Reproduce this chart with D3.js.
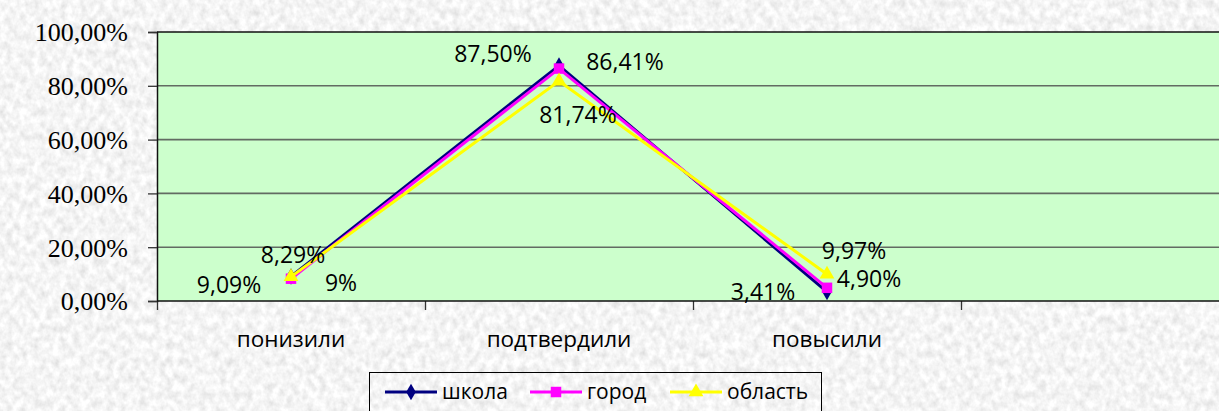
<!DOCTYPE html>
<html>
<head>
<meta charset="utf-8">
<script src="https://cdn.jsdelivr.net/npm/d3@7"></script>
<style>
  html, body { margin: 0; padding: 0; background: #fff; }
  svg { display: block; }
</style>
</head>
<body>
<script>
// chart data
var categories = ["понизили", "подтвердили", "повысили", ""];
var seriesNames = ["школа", "город", "область"];
var school = [9.09, 87.50, 3.41];
var city = [8.29, 86.41, 4.90];
var region = [9, 81.74, 9.97];
var valueLabels = [
  ["9,09%", "87,50%", "3,41%"],
  ["8,29%", "86,41%", "4,90%"],
  ["9%", "81,74%", "9,97%"]
];
var yTicks = [0, 20, 40, 60, 80, 100];

// label nudges (pixels from point), kept apart from data
var labelNudge = [
  [[-62, 8], [-66, -12], [-64, 0]],
  [[2, -24], [66, -7], [42, -9]],
  [[50, 6], [19, 34], [27, -23]]
];

var width = 1219, height = 411;
var plotLeft = 157, plotTop = 32, plotBottom = 301, band = 268;

var svg = d3.select("body").append("svg")
  .attr("width", width)
  .attr("height", height);

// marble-ish background texture
var defs = svg.append("defs");
var f = defs.append("filter").attr("id", "marble")
  .attr("filterUnits", "userSpaceOnUse")
  .attr("x", 0).attr("y", 0).attr("width", width).attr("height", height);
f.append("feTurbulence")
  .attr("type", "fractalNoise")
  .attr("baseFrequency", "0.15 0.12")
  .attr("numOctaves", 3)
  .attr("seed", 7)
  .attr("result", "noise");
f.append("feColorMatrix")
  .attr("in", "noise")
  .attr("type", "matrix")
  .attr("values", "0.42 0 0 0 0.7  0.42 0 0 0 0.7  0.42 0 0 0 0.7  0 0 0 0 1");

svg.append("rect")
  .attr("x", 7).attr("y", 10)
  .attr("width", width - 7).attr("height", height - 10)
  .attr("fill", "#e8e8e8")
  .attr("filter", "url(#marble)");

var x = d3.scaleBand()
  .domain(categories.map(function(d, i) { return i; }))
  .range([plotLeft, plotLeft + band * categories.length])
  .paddingInner(0).paddingOuter(0);

var y = d3.scaleLinear().domain([0, 100]).range([plotBottom, plotTop]);

var clip = defs.append("clipPath").attr("id", "plotclip");
clip.append("rect").attr("x", plotLeft).attr("y", plotTop - 2)
  .attr("width", width - plotLeft).attr("height", plotBottom - plotTop + 14);

var plot = svg.append("g").attr("clip-path", "url(#plotclip)");

// plot area
plot.append("rect")
  .attr("x", plotLeft).attr("y", y(100))
  .attr("width", band * categories.length).attr("height", y(0) - y(100))
  .attr("fill", "#ccffcc");

// gridlines
plot.selectAll(".grid")
  .data(yTicks.filter(function(d) { return d > 0 && d < 100; }))
  .enter().append("line")
  .attr("x1", plotLeft).attr("x2", width)
  .attr("y1", function(d) { return y(d); })
  .attr("y2", function(d) { return y(d); })
  .attr("stroke", "#626b62")
  .attr("stroke-width", 1.6);

plot.append("line")
  .attr("x1", plotLeft).attr("x2", width)
  .attr("y1", y(100)).attr("y2", y(100))
  .attr("stroke", "#111").attr("stroke-width", 1.5);

// y axis
var yAxis = d3.axisLeft(y)
  .tickValues(yTicks)
  .tickSize(9)
  .tickFormat(function(d) { return d3.format(".2f")(d).replace(".", ",") + "%"; });

var yg = svg.append("g")
  .attr("transform", "translate(" + plotLeft + ",0)")
  .call(yAxis);
yg.select(".domain").attr("stroke", "#111").attr("stroke-width", 1.5);
yg.selectAll(".tick line").attr("stroke", "#333").attr("stroke-width", 1.3);
yg.selectAll("text")
  .attr("x", -29)
  .attr("dy", "0.34em")
  .attr("fill", "#000")
  .style("font-family", "'Liberation Serif', 'Times New Roman', serif")
  .style("font-size", "26px");

// x axis
var xBound = d3.scaleLinear().domain([0, categories.length]).range([plotLeft, plotLeft + band * categories.length]);
var xg = svg.append("g")
  .attr("transform", "translate(0," + plotBottom + ")")
  .call(d3.axisBottom(xBound).tickValues([0, 1, 2, 3]).tickSize(9).tickFormat(""));
xg.select(".domain").remove();
xg.selectAll(".tick line").attr("stroke", "#333").attr("stroke-width", 1.3);
svg.append("line")
  .attr("x1", plotLeft).attr("x2", width)
  .attr("y1", plotBottom).attr("y2", plotBottom)
  .attr("stroke", "#111").attr("stroke-width", 1.5);

svg.selectAll(".cat")
  .data(categories)
  .enter().append("text")
  .attr("x", function(d, i) { return x(i) + x.bandwidth() / 2; })
  .attr("y", 347)
  .attr("text-anchor", "middle")
  .style("font-family", "'Open Sans', sans-serif")
  .style("font-size", "22.5px")
  .attr("fill", "#000")
  .text(function(d) { return d; });

// series
var seriesData = [school, city, region];
var colors = ["#000080", "#ff00ff", "#ffff00"];
var symbols = [d3.symbolDiamond, d3.symbolSquare, d3.symbolTriangle];
var symSizes = [80, 110, 95];

var line = d3.line()
  .x(function(d, i) { return x(i) + x.bandwidth() / 2; })
  .y(function(d) { return y(d); });

seriesData.forEach(function(vals, s) {
  var g = svg.append("g");
  g.append("path")
    .attr("d", line(vals))
    .attr("fill", "none")
    .attr("stroke", colors[s])
    .attr("stroke-width", 3);
  g.selectAll(".m")
    .data(vals)
    .enter().append("path")
    .attr("d", d3.symbol().type(symbols[s]).size(symSizes[s]))
    .attr("transform", function(d, i) {
      return "translate(" + (x(i) + x.bandwidth() / 2) + "," + y(d) + ")";
    })
    .attr("fill", colors[s]);
});

// value labels
seriesData.forEach(function(vals, s) {
  svg.selectAll(".lbl" + s)
    .data(vals)
    .enter().append("text")
    .attr("x", function(d, i) { return x(i) + x.bandwidth() / 2 + labelNudge[s][i][0]; })
    .attr("y", function(d, i) { return y(d) + labelNudge[s][i][1]; })
    .attr("dy", "0.36em")
    .attr("text-anchor", "middle")
    .style("font-family", "'Open Sans', sans-serif")
    .style("font-size", "23px")
    .attr("fill", "#000")
    .text(function(d, i) { return valueLabels[s][i]; });
});

// legend
var legend = svg.append("g");
legend.append("rect")
  .attr("x", 369.5).attr("y", 372.5)
  .attr("width", 452).attr("height", 60)
  .attr("fill", "none")
  .attr("stroke", "#000")
  .attr("stroke-width", 1);

var legX = [385, 530, 670];
seriesNames.forEach(function(name, s) {
  var lg = legend.append("g").attr("transform", "translate(" + legX[s] + ",392)");
  lg.append("line")
    .attr("x1", 0).attr("x2", 52)
    .attr("y1", 0).attr("y2", 0)
    .attr("stroke", colors[s]).attr("stroke-width", 3);
  lg.append("path")
    .attr("d", d3.symbol().type(symbols[s]).size(symSizes[s]))
    .attr("transform", "translate(26,0)")
    .attr("fill", colors[s]);
  lg.append("text")
    .attr("x", 57).attr("y", 0)
    .attr("dy", "0.34em")
    .style("font-family", "'Open Sans', sans-serif")
    .style("font-size", "21px")
    .attr("fill", "#000")
    .text(name);
});
</script>
</body>
</html>
